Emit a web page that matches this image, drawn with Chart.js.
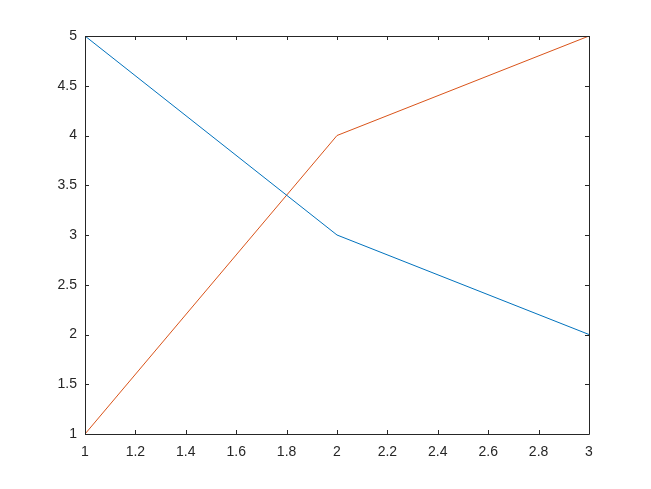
<!DOCTYPE html>
<html>
<head>
<meta charset="utf-8">
<script src="https://cdn.jsdelivr.net/npm/chart.js@4"></script>
<style>
  html, body { margin: 0; padding: 0; background: #fff; }
  #wrap { width: 651px; height: 489px; }
</style>
</head>
<body>
<div id="wrap"><canvas id="plot" width="651" height="489"></canvas></div>
<script>
// ---------- Data ----------
const xValues = [1, 2, 3];
const blueSeries = [5, 3, 2];
const orangeSeries = [1, 4, 5];

const xTicks = [1, 1.2, 1.4, 1.6, 1.8, 2, 2.2, 2.4, 2.6, 2.8, 3];
const yTicks = [1, 1.5, 2, 2.5, 3, 3.5, 4, 4.5, 5];

const axisColor = '#262626';

// draws the MATLAB-like box with inward ticks on all four sides
const boxTicks = {
  id: 'boxTicks',
  afterDatasetsDraw (chart) {
    const { ctx, chartArea: a, scales } = chart;
    ctx.save();
    ctx.strokeStyle = axisColor;
    ctx.lineWidth = 1;
    ctx.beginPath();
    ctx.rect(Math.round(a.left) + 0.5, Math.round(a.top) + 0.5,
             Math.round(a.right - a.left), Math.round(a.bottom - a.top));
    const len = 4;
    xTicks.forEach(v => {
      const px = Math.round(scales.x.getPixelForValue(v)) + 0.5;
      ctx.moveTo(px, a.bottom); ctx.lineTo(px, a.bottom - len);
      ctx.moveTo(px, a.top);    ctx.lineTo(px, a.top + len);
    });
    yTicks.forEach(v => {
      const py = Math.round(scales.y.getPixelForValue(v)) + 0.5;
      ctx.moveTo(a.left, py);  ctx.lineTo(a.left + len, py);
      ctx.moveTo(a.right, py); ctx.lineTo(a.right - len, py);
    });
    ctx.stroke();
    ctx.restore();
  }
};

const toPts = ys => xValues.map((x, i) => ({ x, y: ys[i] }));

new Chart(document.getElementById('plot'), {
  type: 'line',
  data: {
    datasets: [
      { data: toPts(blueSeries), borderColor: '#0072BD', borderWidth: 1, pointRadius: 0, tension: 0 },
      { data: toPts(orangeSeries), borderColor: '#D95319', borderWidth: 1, pointRadius: 0, tension: 0 }
    ]
  },
  options: {
    responsive: false,
    animation: false,
    layout: { padding: { top: 36, right: 62, left: 0, bottom: 0 } },
    plugins: { legend: { display: false }, tooltip: { enabled: false } },
    scales: {
      x: {
        type: 'linear', min: 1, max: 3,
        afterBuildTicks: s => { s.ticks = xTicks.map(v => ({ value: v })); },
        afterFit: s => { s.height = 55; },
        grid: { display: false, drawTicks: false },
        border: { display: false },
        ticks: {
          autoSkip: false, maxRotation: 0, padding: 10, color: axisColor,
          font: { family: 'Liberation Sans, Arial, sans-serif', size: 14 },
          callback: v => String(Math.round(v * 10) / 10)
        }
      },
      y: {
        type: 'linear', min: 1, max: 5,
        afterBuildTicks: s => { s.ticks = yTicks.map(v => ({ value: v })); },
        afterFit: s => { s.width = 85; },
        grid: { display: false, drawTicks: false },
        border: { display: false },
        ticks: {
          autoSkip: false, padding: 8, color: axisColor,
          font: { family: 'Liberation Sans, Arial, sans-serif', size: 14 },
          callback: v => String(v)
        }
      }
    }
  },
  plugins: [boxTicks]
});
</script>
</body>
</html>
